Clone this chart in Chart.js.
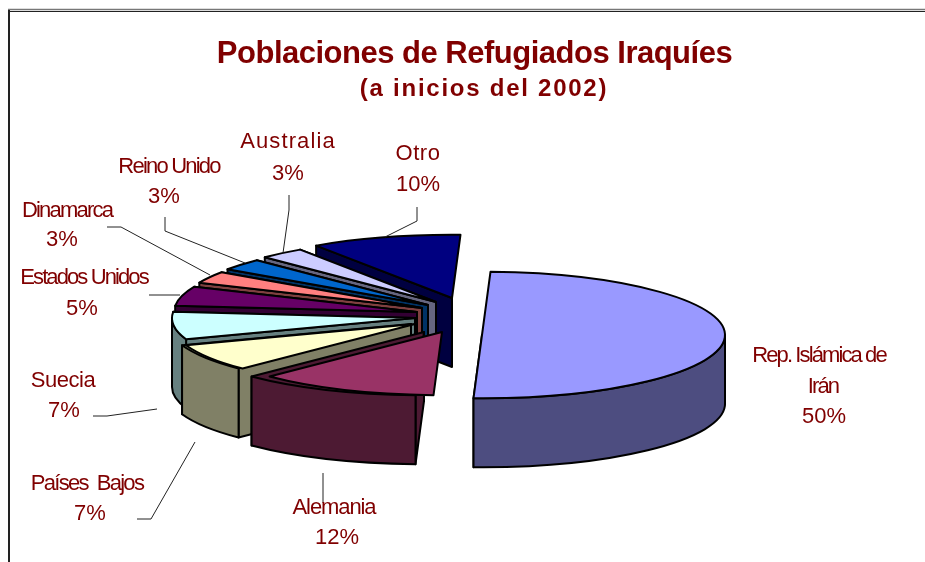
<!DOCTYPE html>
<html><head><meta charset="utf-8">
<style>html,body{margin:0;padding:0;background:#fff}canvas{display:block}</style>
<script src="https://cdn.jsdelivr.net/npm/chart.js@4"></script>
</head><body>
<canvas id="c" width="925" height="562"></canvas>
<script>
// data
const categories = ['Rep. Islámica de\nIrán','Alemania','Países  Bajos','Suecia','Estados Unidos','Dinamarca','Reino Unido','Australia','Otro'];
const shares = [50,12,7,7,5,3,3,3,10];
const titleText = 'Poblaciones de Refugiados Iraquíes';
const subtitleText = '(a inicios del 2002)';
// colours
const topColors  = ['#9999FF','#993366','#FFFFCC','#CCFFFF','#660066','#FF8080','#0066CC','#CCCCFF','#000080'];
const wallColors = ['#4D4D80','#4D1A33','#808066','#668080','#330033','#804040','#003366','#666680','#000040'];
const inkColor = '#800000';
// 3D look: explosion of each slice, squash, extrusion
const explodeX = [64,24,-3,-3,-1,4,10,18,34];
const explodeY = [17,14,6,0,-6,-10,-13,-16,-20];
const wallShiftX = [0,-18,-4,0,0,0,0,0,0];
const squash = 0.26, depth = 69;
const paintOrder = [8,7,6,5,4,3,2,1,0];
// label layout: [centre x of each line, centre y of each line]
const labelPos = [
 [[819,356],[823,387],[824,417]],
 [[334,508],[337,538]],
 [[87,484],[90,514]],
 [[63,381],[64,411]],
 [[84,278],[82,309]],
 [[67,211],[62,240]],
 [[169,167],[164,197]],
 [[288,142],[288,174]],
 [[418,154],[418,185]]
];
const labelSpacing = [-1.9,-1.1,-1.7,-0.5,-1.9,-1.8,-1.8,1.1,0.5];
const leaders = [
 null,
 [[323,473],[323,503]],
 [[137,519],[151,519],[195,442]],
 [[93,416],[107,416],[157,409]],
 [[149,295],[180,295]],
 [[107,227],[121,227],[210,275]],
 [[165,217],[165,231],[245,263]],
 [[289,195],[289,210],[283,253]],
 [[417,207],[417,221],[385,237]]
];

function shape(ctx, fill){
  ctx.fillStyle = fill; ctx.fill();
  ctx.strokeStyle = '#000'; ctx.lineWidth = 2; ctx.lineJoin = 'round'; ctx.stroke();
}
const pie3d = {
  id:'pie3d',
  beforeDatasetsDraw(chart){
    const ctx = chart.ctx, arcs = chart.getDatasetMeta(0).data;
    ctx.save();
    paintOrder.forEach(i=>{
      const a = arcs[i], R = a.outerRadius, r = R*squash;
      const cx = a.x+explodeX[i], cy = a.y+explodeY[i], wx = cx+wallShiftX[i];
      const s = a.startAngle, e = a.endAngle;
      const radial = ang=>{
        // a cut face lying almost straight back is edge-on and stays hidden
        if(Math.sin(ang)<-0.99) return;
        ctx.beginPath();
        ctx.moveTo(wx,cy);
        ctx.lineTo(wx+R*Math.cos(ang),cy+r*Math.sin(ang));
        ctx.lineTo(wx+R*Math.cos(ang),cy+r*Math.sin(ang)+depth);
        ctx.lineTo(wx,cy+depth);
        ctx.closePath();
        shape(ctx,wallColors[i]);
      };
      radial(e); radial(s);
      // outer wall: only the part that faces the viewer
      const f0 = Math.max(s,0), f1 = Math.min(e,Math.PI);
      if(f1>f0){
        ctx.beginPath();
        ctx.ellipse(wx,cy,R,r,0,f0,f1);
        ctx.ellipse(wx,cy+depth,R,r,0,f1,f0,true);
        ctx.closePath();
        shape(ctx,wallColors[i]);
      }
      // top face
      ctx.beginPath();
      ctx.moveTo(cx,cy);
      ctx.ellipse(cx,cy,R,r,0,s,e);
      ctx.closePath();
      shape(ctx,a.options.backgroundColor);
    });
    ctx.restore();
    return false;
  },
  afterDraw(chart){
    const ctx = chart.ctx;
    ctx.save();
    // frame
    ctx.strokeStyle='#777'; ctx.lineWidth=1.5;
    ctx.beginPath(); ctx.moveTo(8,9.5); ctx.lineTo(925,9.5); ctx.stroke();
    ctx.strokeStyle='#222'; ctx.lineWidth=1;
    ctx.beginPath(); ctx.moveTo(9,11.5); ctx.lineTo(925,11.5); ctx.stroke();
    ctx.lineWidth=2;
    ctx.beginPath(); ctx.moveTo(9,10); ctx.lineTo(9,562); ctx.stroke();
    // leader lines
    ctx.strokeStyle='#222'; ctx.lineWidth=1;
    leaders.forEach(l=>{ if(!l) return;
      ctx.beginPath(); l.forEach((p,k)=>k?ctx.lineTo(p[0],p[1]):ctx.moveTo(p[0],p[1])); ctx.stroke();
    });
    // texts
    ctx.textAlign='center'; ctx.textBaseline='middle'; ctx.fillStyle=inkColor;
    ctx.font='bold 31px "Liberation Sans"'; ctx.letterSpacing='-0.5px';
    ctx.fillText(titleText,474.5,54);
    ctx.font='bold 24px "Liberation Sans"'; ctx.letterSpacing='1.75px';
    ctx.fillText(subtitleText,484,89);
    const total = shares.reduce((p,q)=>p+q,0);
    ctx.font='22px "Liberation Sans"';
    categories.forEach((n,i)=>{
      const lines = n.split('\n').concat(Math.round(shares[i]/total*100)+'%');
      lines.forEach((t,k)=>{
        ctx.letterSpacing = (k===lines.length-1?0:labelSpacing[i])+'px';
        ctx.fillText(t,labelPos[i][k][0],labelPos[i][k][1]);
      });
    });
    ctx.restore();
  }
};
new Chart(document.getElementById('c'),{
  type:'pie',
  data:{labels:categories,datasets:[{data:shares,backgroundColor:topColors,borderWidth:0}]},
  options:{
    responsive:false,animation:false,rotation:2,
    layout:{padding:{left:175,right:264,top:75,bottom:1}},
    plugins:{legend:{display:false},title:{display:false},tooltip:{enabled:false}}
  },
  plugins:[pie3d]
});
</script>
</body></html>
